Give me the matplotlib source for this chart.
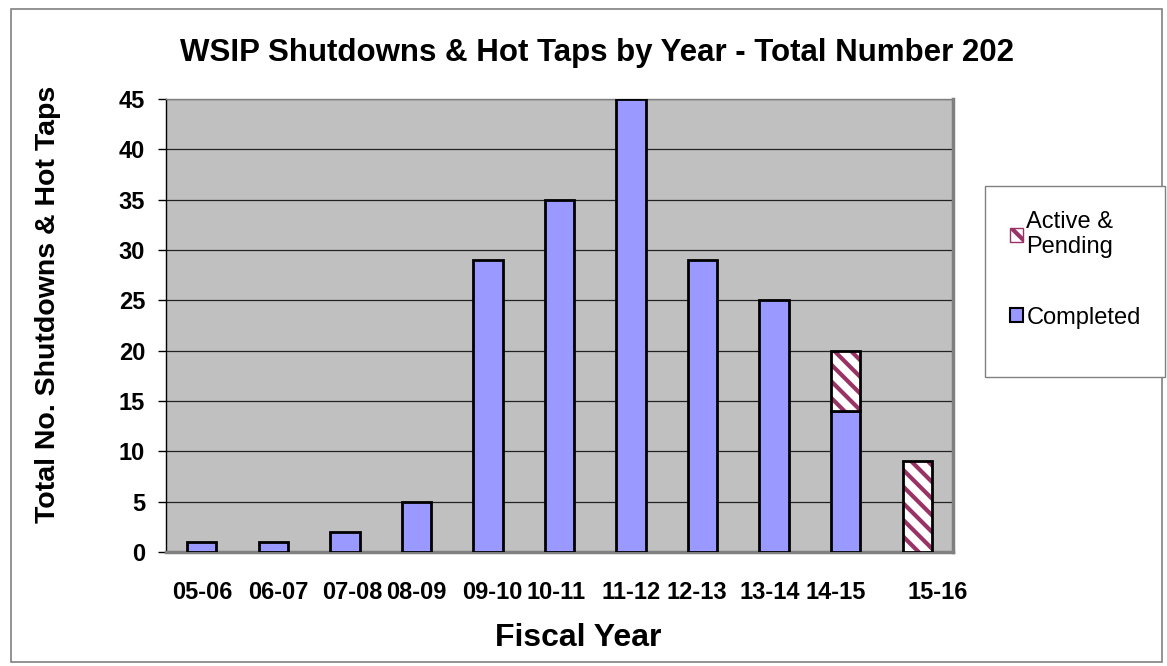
import matplotlib
matplotlib.use("Agg")
import matplotlib.pyplot as plt
import matplotlib.transforms as mtransforms
from matplotlib.patches import Patch, Rectangle
import numpy as np

# ── Data ──────────────────────────────────────────────────────────
years = ["05-06", "06-07", "07-08", "08-09", "09-10", "10-11",
         "11-12", "12-13", "13-14", "14-15", "15-16"]
completed = [1, 1, 2, 5, 29, 35, 45, 29, 25, 14, 0]
active_pending = [0, 0, 0, 0, 0, 0, 0, 0, 0, 6, 9]

# label nudges (px) to mimic the original's uneven tick label placement
label_dx = [1, 5, 7, 0, 4, -3, 0, -6, -4, -10, 20]

BLUE = "#9999FF"
MAROON = "#993366"

plt.rcParams.update({
    "font.family": ["Liberation Sans", "DejaVu Sans"],
    "font.weight": "bold",
    "hatch.linewidth": 3.0,
})

fig = plt.figure(figsize=(11.67, 6.66), dpi=100)
W, H = 1167, 666

# outer chart border
fig.patches.append(Rectangle((11 / W, 1 - 662 / H), 1151 / W, 653 / H,
                             transform=fig.transFigure, fill=False,
                             edgecolor="#808080", lw=1.2))

ax = fig.add_axes([166 / W, 1 - 552 / H, 787 / W, 453 / H])
ax.set_facecolor("#C0C0C0")

x = np.arange(len(years))
bw = 0.41

ax.bar(x, completed, width=bw, color=BLUE, edgecolor="black", lw=2, zorder=3)
# hatched part: maroon hatch then black outline
ax.bar(x, active_pending, width=bw, bottom=completed, color="white",
       edgecolor=MAROON, hatch="\\\\", lw=0, zorder=3)
for xi, a, c in zip(x, active_pending, completed):
    if a > 0:
        ax.bar(xi, a, width=bw, bottom=c, fill=False, edgecolor="black",
               lw=2, zorder=4)

ax.set_xlim(-0.5, len(years) - 0.5)
ax.set_ylim(0, 45)
ax.set_yticks(range(0, 46, 5))
ax.yaxis.grid(True, color="#222222", lw=0.9, zorder=1)
ax.set_axisbelow(True)

ax.set_xticks(x)
ax.set_xticklabels(years, fontsize=17, fontweight="bold")
ax.tick_params(axis="x", length=0, pad=21)
ax.tick_params(axis="y", length=6, width=1, pad=9, labelsize=17)
for lbl in ax.get_yticklabels():
    lbl.set_fontweight("bold")
for lbl, dx in zip(ax.get_xticklabels(), label_dx):
    lbl.set_transform(lbl.get_transform() +
                      mtransforms.ScaledTranslation(dx / 100, 0, fig.dpi_scale_trans))

ax.spines["left"].set_color("black")
ax.spines["left"].set_linewidth(1)
for s in ["bottom", "right"]:
    ax.spines[s].set_color("#808080")
    ax.spines[s].set_linewidth(2.5)
ax.spines["top"].set_color("#808080")
ax.spines["top"].set_linewidth(1)

fig.text(597 / W, 1 - 53 / H,
         "WSIP Shutdowns & Hot Taps by Year - Total Number 202",
         ha="center", va="center", fontsize=22.5, fontweight="bold")
fig.text(48 / W, 1 - 304 / H, "Total No. Shutdowns & Hot Taps",
         rotation=90, ha="center", va="center", fontsize=20.5, fontweight="bold")
fig.text(578 / W, 1 - 638 / H, "Fiscal Year",
         ha="center", va="center", fontsize=23, fontweight="bold")

# legend box (Excel-style, taller than its contents)
fig.patches.append(Rectangle((985 / W, 1 - 377 / H), 180 / W, 191 / H,
                             transform=fig.transFigure, facecolor="white",
                             edgecolor="#808080", lw=1, zorder=5))
handles = [
    Patch(facecolor="white", edgecolor=MAROON, hatch="\\\\"),
    Patch(facecolor=BLUE, edgecolor="black", lw=1.5),
]
leg = fig.legend(handles, ["Active &\nPending", "Completed"],
                 loc="upper left", bbox_to_anchor=(985 / W, 1 - 186 / H),
                 frameon=False,
                 prop={"size": 17, "weight": "normal"},
                 handlelength=0.55, handleheight=0.55, handletextpad=0.15,
                 labelspacing=2.05, borderpad=1.05, borderaxespad=0)
leg.set_zorder(6)

fig.savefig("out.png", dpi=100)
